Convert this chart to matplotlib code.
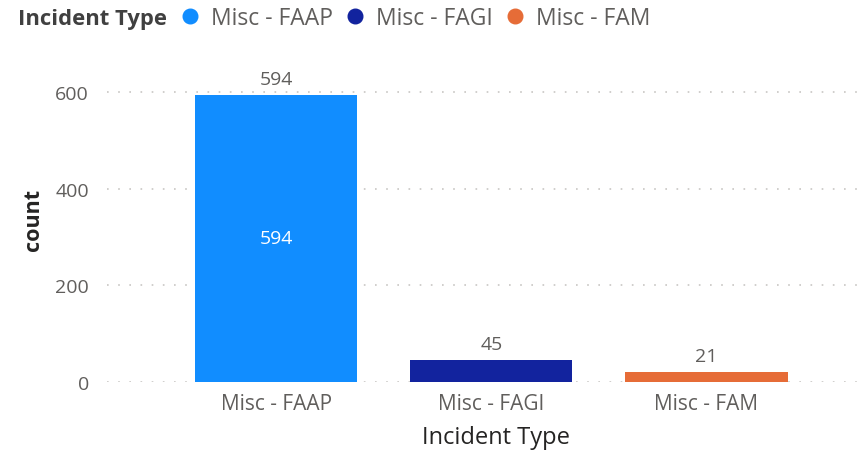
import matplotlib
matplotlib.use("Agg")
import matplotlib.pyplot as plt
from matplotlib.lines import Line2D

plt.rcParams['font.family'] = ['Open Sans', 'DejaVu Sans']

categories = ["Misc - FAAP", "Misc - FAGI", "Misc - FAM"]
counts = [594, 45, 21]
colors = ["#118DFF", "#12239E", "#E66C37"]
y_ticks = [0, 200, 400, 600]
legend_title = "Incident Type"
x_title = "Incident Type"
y_title = "count"

TICK_C = "#605E5C"
TITLE_C = "#252423"

fig = plt.figure(figsize=(8.58, 4.52), dpi=100)
ax = fig.add_axes([107/858, 1 - 382.7/452, 750/858, 650*0.4825/452])

x = list(range(len(categories)))
bars = ax.bar(x, counts, width=0.755, color=colors, zorder=3)

ax.set_xlim(-0.786, 2.70)
ax.set_ylim(0, 650)
ax.set_yticks(y_ticks)
ax.set_yticklabels([str(v) for v in y_ticks])
ax.set_xticks(x)
ax.set_xticklabels(categories)
ax.tick_params(axis='both', length=0, labelcolor=TICK_C)
ax.tick_params(axis='y', pad=13, labelsize=14)
ax.tick_params(axis='x', pad=8, labelsize=15)
for s in ax.spines.values():
    s.set_visible(False)
ax.yaxis.grid(True, color="#C8C6C4", linestyle=(0, (1, 5.7)), linewidth=1.2, zorder=0)
ax.xaxis.grid(False)

# data labels
for rect, v in zip(bars, counts):
    ax.annotate(str(v), (rect.get_x() + rect.get_width()/2, v),
                xytext=(0, 5), textcoords='offset points',
                ha='center', va='bottom', fontsize=14, color=TICK_C)
big = bars[0]
ax.text(big.get_x() + big.get_width()/2, counts[0]/2, str(counts[0]),
        ha='center', va='center', fontsize=14, color='white', zorder=4)

# axis titles
fig.text(496/858, 1 - 438/452, x_title, ha='center', va='center',
         fontsize=17, color=TITLE_C)
fig.text(33/858, 1 - 220/452, y_title, ha='center', va='center',
         fontsize=15.5, color=TITLE_C, rotation=90, fontweight='bold')

# legend
fig.text(18/858, 1 - 19/452, legend_title, ha='left', va='center',
         fontsize=15.8, color="#404040", fontweight='bold')
handles = [Line2D([], [], marker='o', linestyle='none', markersize=10.5,
                  markerfacecolor=c, markeredgecolor=c) for c in colors]
leg = fig.legend(handles, categories, loc='center left',
                 bbox_to_anchor=(178.5/858, 1 - 19/452), ncol=3, frameon=False,
                 fontsize=16.5, handlelength=1.0, handletextpad=0.42,
                 columnspacing=0.46, borderaxespad=0, borderpad=0)
for t in leg.get_texts():
    t.set_color(TICK_C)

fig.savefig("out.png", dpi=100)
